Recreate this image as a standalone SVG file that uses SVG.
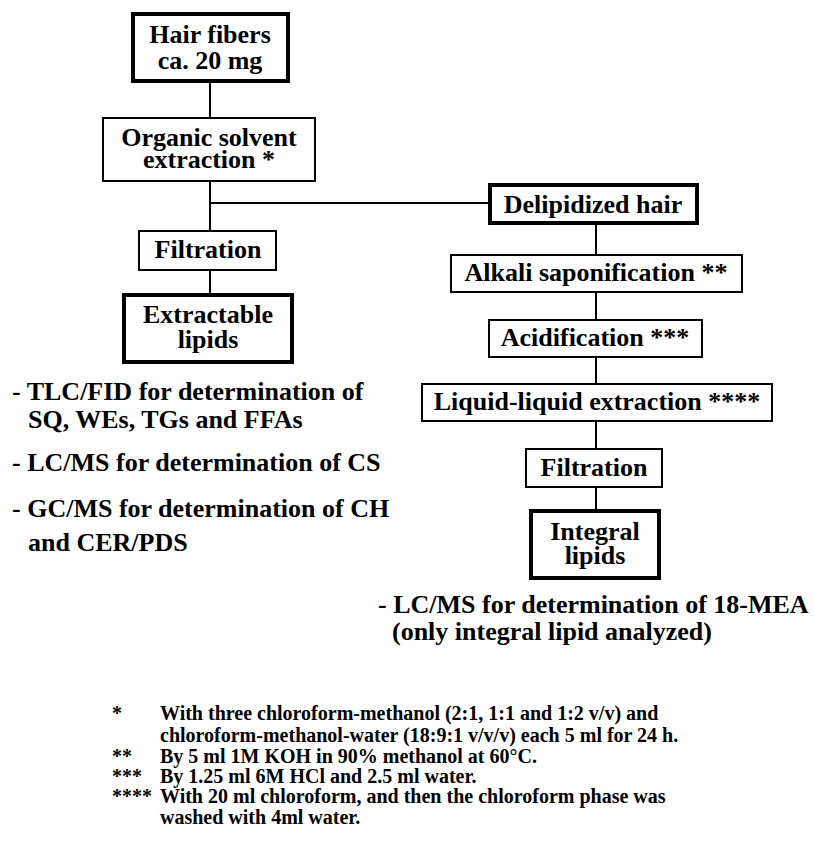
<svg xmlns="http://www.w3.org/2000/svg" width="814" height="850" viewBox="0 0 814 850">
<style>
text{font-family:"Liberation Serif","Times New Roman",serif;font-weight:bold;fill:#000}
.n{font-size:26px;text-anchor:middle}
.l{font-size:26px}
.f{font-size:20px}
.thin{fill:#fff;stroke:#000;stroke-width:2}
.thick{fill:#fff;stroke:#000;stroke-width:4}
.c line{stroke:#000;stroke-width:2}
</style>
<rect width="814" height="850" fill="#fff"/>
<g class="c" id="connectors">
<line x1="210" y1="83" x2="210" y2="117"/>
<line x1="210" y1="182" x2="210" y2="230"/>
<line x1="210" y1="271" x2="210" y2="293"/>
<line x1="210" y1="203" x2="488" y2="203"/>
<line x1="596" y1="225" x2="596" y2="254"/>
<line x1="596" y1="293" x2="596" y2="319"/>
<line x1="596" y1="358" x2="596" y2="383"/>
<line x1="596" y1="422" x2="596" y2="448"/>
<line x1="596" y1="488" x2="596" y2="509"/>
</g>
<g id="hair"><rect class="thick" x="133" y="14" width="155" height="67"/><text class="n" x="210" y="43">Hair fibers</text><text class="n" x="210" y="69">ca. 20 mg</text></g>
<g id="organic"><rect class="thin" x="103" y="118" width="212" height="63"/><text class="n" x="209" y="146">Organic solvent</text><text class="n" x="209" y="168">extraction *</text></g>
<g id="filtL"><rect class="thin" x="139" y="231" width="137" height="39"/><text class="n" x="208" y="258">Filtration</text></g>
<g id="extract"><rect class="thick" x="124" y="295" width="168" height="67"/><text class="n" x="208" y="323">Extractable</text><text class="n" x="208" y="348">lipids</text></g>
<g id="delip"><rect class="thick" x="490" y="185" width="207" height="38"/><text class="n" x="593" y="213">Delipidized hair</text></g>
<g id="alkali"><rect class="thin" x="451" y="255" width="291" height="37"/><text class="n" x="596" y="281">Alkali saponification **</text></g>
<g id="acid"><rect class="thin" x="489" y="320" width="213" height="37"/><text class="n" x="595" y="346">Acidification ***</text></g>
<g id="liquid"><rect class="thin" x="422" y="384" width="350" height="37"/><text class="n" x="597" y="410">Liquid-liquid extraction ****</text></g>
<g id="filtR"><rect class="thin" x="526" y="449" width="136" height="38"/><text class="n" x="594" y="476">Filtration</text></g>
<g id="integral"><rect class="thick" x="531" y="511" width="128" height="67"/><text class="n" x="595" y="540">Integral</text><text class="n" x="595" y="564">lipids</text></g>
<g id="leftlist">
<text class="l" x="12" y="400">- TLC/FID for determination of</text>
<text class="l" x="28" y="428">SQ, WEs, TGs and FFAs</text>
<text class="l" x="12" y="471">- LC/MS for determination of CS</text>
<text class="l" x="12" y="517">- GC/MS for determination of CH</text>
<text class="l" x="28" y="551">and CER/PDS</text>
</g>
<g id="rightlist">
<text class="l" x="378" y="613">- LC/MS for determination of 18-MEA</text>
<text class="l" x="392" y="640">(only integral lipid analyzed)</text>
</g>
<g id="footnotes">
<text class="f" x="112" y="720">*</text><text class="f" x="160" y="720">With three chloroform-methanol (2:1, 1:1 and 1:2 v/v) and</text>
<text class="f" x="160" y="742">chloroform-methanol-water (18:9:1 v/v/v) each 5 ml for 24 h.</text>
<text class="f" x="112" y="763">**</text><text class="f" x="160" y="763">By 5 ml 1M KOH in 90% methanol at 60°C.</text>
<text class="f" x="112" y="783">***</text><text class="f" x="160" y="783">By 1.25 ml 6M HCl and 2.5 ml water.</text>
<text class="f" x="112" y="803">****</text><text class="f" x="160" y="803">With 20 ml chloroform, and then the chloroform phase was</text>
<text class="f" x="160" y="824">washed with 4ml water.</text>
</g>
</svg>
